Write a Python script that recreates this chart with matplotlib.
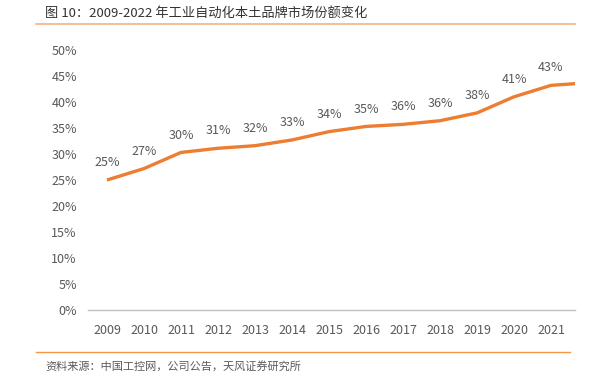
import numpy as np
import matplotlib
matplotlib.use("Agg")
import matplotlib.pyplot as plt
from matplotlib.ticker import PercentFormatter

plt.rcParams['font.family'] = ['Noto Sans CJK SC', 'DejaVu Sans']

# data
years = [2009, 2010, 2011, 2012, 2013, 2014, 2015, 2016, 2017, 2018, 2019, 2020, 2021, 2022]
share = [25.0, 27.2, 30.3, 31.1, 31.6, 32.7, 34.3, 35.3, 35.7, 36.4, 37.9, 41.0, 43.2, 43.7]
labels = ["25%", "27%", "30%", "31%", "32%", "33%", "34%", "35%", "36%", "36%", "38%", "41%", "43%"]
yticks = [0, 5, 10, 15, 20, 25, 30, 35, 40, 45, 50]

title = "图 10：2009-2022 年工业自动化本土品牌市场份额变化"
source = "资料来源：中国工控网，公司公告，天风证券研究所"

W, H = 604, 376
fig = plt.figure(figsize=(W / 100, H / 100), dpi=100)
ax = fig.add_axes([88 / W, 1 - 310 / H, (575 - 88) / W, (310 - 50) / H])

x = np.arange(len(years))
ax.plot(x, share, color='#ED7D31', lw=2.4, solid_capstyle='butt', clip_on=True)

xmin = -19 / 37
xmax = 468 / 37
for i, lab in enumerate(labels):
    ax.annotate(lab, (x[i], share[i]), xytext=(0, 12.5), textcoords='offset points',
                ha='center', va='center', fontsize=9, color='#595959')

ax.set_xlim(xmin, xmax)
ax.set_ylim(0, 50)
ax.set_yticks(yticks)
ax.yaxis.set_major_formatter(PercentFormatter(decimals=0))
ax.set_xticks(x[:13])
ax.set_xticklabels([str(y) for y in years[:13]])
ax.tick_params(axis='both', length=0, labelsize=9, labelcolor='#595959')
ax.tick_params(axis='x', pad=10)
ax.tick_params(axis='y', pad=8)
for s in ['top', 'right', 'left']:
    ax.spines[s].set_visible(False)
ax.spines['bottom'].set_color('#BFBFBF')
ax.spines['bottom'].set_linewidth(1.0)

# title, separator lines, source
fig.text(45 / W, 1 - 13 / H, title, ha='left', va='center', fontsize=9.5,
         color='#333333', fontweight='medium')
fig.add_artist(plt.Line2D([36 / W, 575 / W], [1 - 24 / H, 1 - 24 / H],
                          color='#F4B183', lw=1.2))
fig.add_artist(plt.Line2D([36 / W, 570 / W], [1 - 352 / H, 1 - 352 / H],
                          color='#F79646', lw=1.0))
fig.text(45 / W, 1 - 366 / H, source, ha='left', va='center', fontsize=8,
         color='#595959')

fig.savefig('out.png', dpi=100)
